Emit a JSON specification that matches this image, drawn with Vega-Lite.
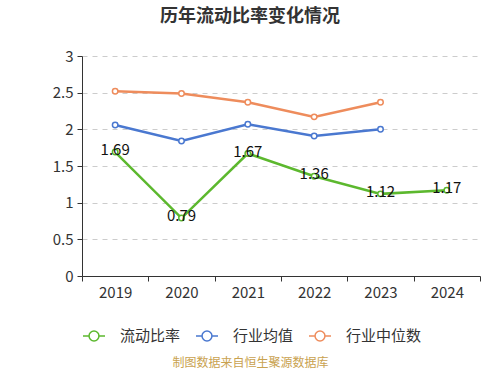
{
  "$schema": "https://vega.github.io/schema/vega-lite/v6.json",
  "width": 398,
  "height": 220,
  "autosize": {"type": "none"},
  "padding": {"left": 82, "top": 56, "right": 20, "bottom": 99},
  "background": "white",
  "config": {
    "font": "Noto Sans CJK SC",
    "view": {"stroke": null}
  },
  "title": {
    "text": "历年流动比率变化情况",
    "fontSize": 18,
    "fontWeight": "bold",
    "color": "#333333",
    "anchor": "middle",
    "frame": "group",
    "offset": 23,
    "dx": -31
  },
  "data": {
    "values": [
      {"year": "2019", "series": "流动比率", "value": 1.69},
      {"year": "2020", "series": "流动比率", "value": 0.79},
      {"year": "2021", "series": "流动比率", "value": 1.67},
      {"year": "2022", "series": "流动比率", "value": 1.36},
      {"year": "2023", "series": "流动比率", "value": 1.12},
      {"year": "2024", "series": "流动比率", "value": 1.17},
      {"year": "2019", "series": "行业均值", "value": 2.06},
      {"year": "2020", "series": "行业均值", "value": 1.84},
      {"year": "2021", "series": "行业均值", "value": 2.07},
      {"year": "2022", "series": "行业均值", "value": 1.91},
      {"year": "2023", "series": "行业均值", "value": 2.0},
      {"year": "2019", "series": "行业中位数", "value": 2.52},
      {"year": "2020", "series": "行业中位数", "value": 2.49},
      {"year": "2021", "series": "行业中位数", "value": 2.37},
      {"year": "2022", "series": "行业中位数", "value": 2.17},
      {"year": "2023", "series": "行业中位数", "value": 2.37}
    ]
  },
  "encoding": {
    "x": {
      "field": "year",
      "type": "ordinal",
      "scale": {"paddingInner": 0, "paddingOuter": 0},
      "axis": {
        "labelAngle": 0,
        "labelFontSize": 15,
        "labelColor": "#333333",
        "labelPadding": 4,
        "domainColor": "#333333",
        "tickColor": "#333333",
        "tickSize": 5,
        "tickBand": "extent",
        "grid": false,
        "title": "制图数据来自恒生聚源数据库",
        "titleFontSize": 12,
        "titleFontWeight": "normal",
        "titleColor": "#c9a24f",
        "titleX": 168,
        "titleY": 86,
        "titleAlign": "center",
        "titleBaseline": "middle"
      }
    },
    "y": {
      "field": "value",
      "type": "quantitative",
      "scale": {"domain": [0, 3]},
      "axis": {
        "values": [0, 0.5, 1, 1.5, 2, 2.5, 3],
        "format": "~g",
        "labelFontSize": 15,
        "labelColor": "#333333",
        "labelPadding": 4,
        "domainColor": "#333333",
        "tickColor": "#333333",
        "tickSize": 5,
        "grid": true,
        "gridColor": "#cccccc",
        "gridDash": [5, 5],
        "title": null
      }
    },
    "color": {
      "field": "series",
      "type": "nominal",
      "scale": {
        "domain": ["流动比率", "行业均值", "行业中位数"],
        "range": ["#5cb82e", "#4a78d0", "#ee8c5c"]
      },
      "legend": {
        "orient": "none",
        "direction": "horizontal",
        "legendX": 0,
        "legendY": 268,
        "title": null,
        "labelFontSize": 15,
        "labelColor": "#333333",
        "labelOffset": 14,
        "columnPadding": 12,
        "symbolSize": 484,
        "symbolStrokeWidth": 1.5,
        "padding": 0,
        "encode": {
          "symbols": {
            "update": {
              "shape": {"value": "M-1,0H-0.45M0.45,0H1M-0.45,0A0.45,0.45,0,1,1,0.45,0A0.45,0.45,0,1,1,-0.45,0"},
              "fill": {"value": "white"},
              "stroke": {"scale": "color", "field": "value"},
              "strokeWidth": {"value": 1.5}
            }
          }
        }
      }
    }
  },
  "layer": [
    {
      "mark": {"type": "line", "strokeWidth": 2.5, "point": {"filled": false, "fill": "white", "size": 30, "strokeWidth": 1.5}}
    },
    {
      "transform": [{"filter": "datum.series === '流动比率'"}],
      "mark": {"type": "text", "fontSize": 15, "dy": -2, "baseline": "middle"},
      "encoding": {
        "text": {"field": "value", "type": "quantitative", "format": ".2f"},
        "color": {"value": "#111111"}
      }
    }
  ]
}
